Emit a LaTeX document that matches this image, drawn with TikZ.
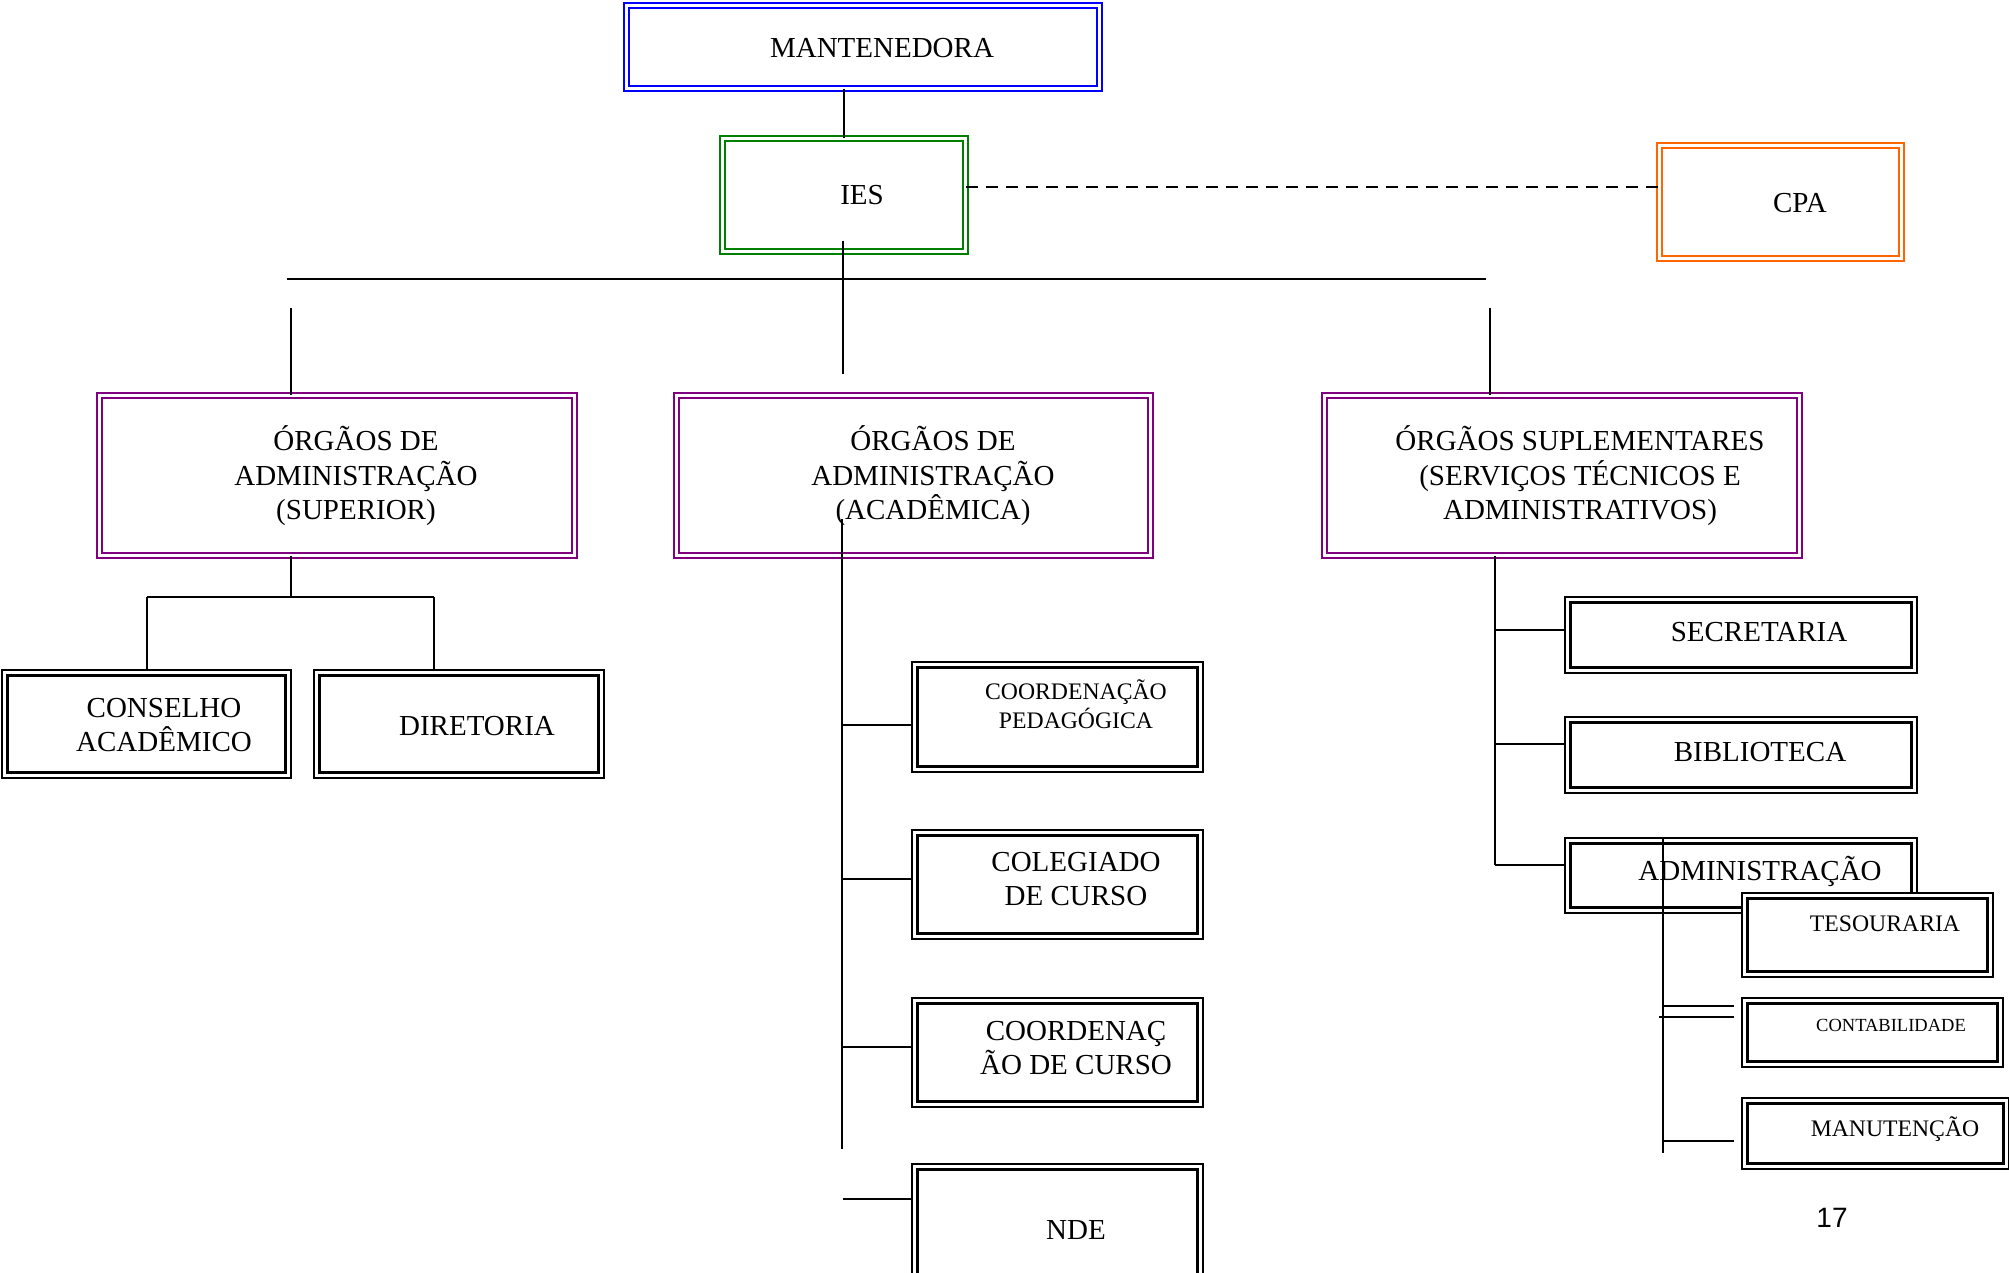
\documentclass[tikz,border=0pt]{standalone}
\usepackage{fontspec}
\setmainfont{Liberation Serif}
\newfontfamily\pagenumfont{Liberation Sans}
\definecolor{cblue}{RGB}{0,0,255}
\definecolor{cgreen}{RGB}{0,128,0}
\definecolor{corange}{RGB}{255,102,0}
\definecolor{cpurple}{RGB}{128,0,128}
\begin{document}
\begin{tikzpicture}[x=1pt,y=-1pt,
  dbox/.style={draw, double=white, double distance=3pt, line width=2.2pt, fill=white, inner sep=0pt, rectangle},
  kbox/.style={dbox, draw=black, line width=2.8pt, double distance=2.6pt},
  conn/.style={draw=black, line width=2pt},
  dashline/.style={draw=black, line width=2.4pt, dash pattern=on 12pt off 8pt},
  txt/.style={font=\fontsize{29}{34.5}\selectfont, align=center, inner sep=0pt},
  stxt/.style={font=\fontsize{23.7}{29.5}\selectfont, align=center, inner sep=0pt},
  xstxt/.style={font=\fontsize{18.5}{22}\selectfont, align=center, inner sep=0pt}
]
\useasboundingbox (0,0) rectangle (2009,1272);

% ---- top level
\node[dbox, draw=cblue, minimum width=472.6pt, minimum height=82.6pt] (mant) at (863,47) {};
\node[dbox, draw=cgreen, minimum width=242.6pt, minimum height=112.6pt] (ies) at (844,195) {};
\node[dbox, draw=corange, minimum width=241.6pt, minimum height=112.6pt] (cpa) at (1780.5,202) {};
\node[txt] (mantT) at (882,48) {MANTENEDORA};
\node[txt] (iesT) at (862,195) {IES};
\node[txt] (cpaT) at (1800,203) {CPA};

\draw[conn] (ies.north |- mant.south) -- (ies.north);
\coordinate (dashy) at (0,187);
\draw[dashline] (ies.east |- dashy) -- (cpa.west |- dashy);

% ---- second level boxes
\node[dbox, draw=cpurple, minimum width=474.6pt, minimum height=159.6pt] (sup) at (337,475.5) {};
\node[dbox, draw=cpurple, minimum width=473.6pt, minimum height=159.6pt] (acad) at (913.5,475.5) {};
\node[dbox, draw=cpurple, minimum width=474.6pt, minimum height=159.6pt] (supl) at (1562,475.5) {};
\node[txt] (supT) at (356,476) {ÓRGÃOS DE\\ADMINISTRAÇÃO\\(SUPERIOR)};
\node[txt] (acadT) at (933,476) {ÓRGÃOS DE\\ADMINISTRAÇÃO\\(ACADÊMICA)};
\node[txt] (suplT) at (1580,476) {ÓRGÃOS SUPLEMENTARES\\(SERVIÇOS TÉCNICOS E\\ADMINISTRATIVOS)};

% bus
\coordinate (iesdrop) at (843,241);
\coordinate (busdrop) at (843,374);
\draw[conn] (iesdrop) -- (busdrop);
\coordinate (busL) at (287,279);
\coordinate (busR) at (1486,279);
\draw[conn] (busL) -- (busR);
\coordinate (supin) at (291,308);
\draw[conn] (supin) -- (supin |- sup.north);
\coordinate (suplin) at (1490,308);
\draw[conn] (suplin) -- (suplin |- supl.north);

% ---- superior branch
\node[kbox, minimum width=283.6pt, minimum height=102.6pt] (cons) at (146.5,724) {};
\node[kbox, minimum width=284.6pt, minimum height=102.6pt] (dir) at (459,724) {};
\node[txt] (consT) at (164,725) {CONSELHO\\ACADÊMICO};
\node[txt] (dirT) at (477,726) {DIRETORIA};
\coordinate (supfork) at (291,597);
\coordinate (forkL) at (147,597);
\coordinate (forkR) at (434,597);
\draw[conn] (supfork |- sup.south) -- (supfork);
\draw[conn] (forkL) -- (forkR);
\draw[conn] (forkL) -- (forkL |- cons.north);
\draw[conn] (forkR) -- (forkR |- dir.north);

% ---- academica branch
\node[kbox, minimum width=285.6pt, minimum height=104.6pt] (cped) at (1057.5,717) {};
\node[kbox, minimum width=285.6pt, minimum height=103.6pt] (coleg) at (1057.5,884.5) {};
\node[kbox, minimum width=285.6pt, minimum height=103.6pt] (ccur) at (1057.5,1052.5) {};
\node[kbox, minimum width=285.6pt, minimum height=118.6pt] (nde) at (1057.5,1226) {};
\node[stxt] (cpedT) at (1076,704) {COORDENAÇÃO\\PEDAGÓGICA};
\node[txt] (colegT) at (1076,879) {COLEGIADO\\DE CURSO};
\node[txt] (ccurT) at (1076,1048) {COORDENAÇ\\ÃO DE CURSO};
\node[txt] (ndeT) at (1076,1230) {NDE};
\coordinate (acadtop) at (842,519);
\coordinate (acadbot) at (842,1149);
\draw[conn] (acadtop) -- (acadbot);
\coordinate (ab1) at (842,725);
\coordinate (ab2) at (842,879);
\coordinate (ab3) at (842,1047);
\coordinate (ab4) at (843,1199);
\draw[conn] (ab1) -- (ab1 -| cped.west);
\draw[conn] (ab2) -- (ab2 -| coleg.west);
\draw[conn] (ab3) -- (ab3 -| ccur.west);
\draw[conn] (ab4) -- (ab4 -| nde.west);

% ---- suplementares branch
\node[kbox, minimum width=346.6pt, minimum height=70.6pt] (sec) at (1741,635) {};
\node[kbox, minimum width=346.6pt, minimum height=70.6pt] (bib) at (1741,755) {};
\node[kbox, minimum width=346.6pt, minimum height=69.6pt] (adm) at (1741,875.5) {};
\node[txt] (secT) at (1759,632) {SECRETARIA};
\node[txt] (bibT) at (1760,752) {BIBLIOTECA};
\node[txt] (admT) at (1760,871) {ADMINISTRAÇÃO};
\coordinate (sb3) at (1495,865);
\coordinate (sb1) at (1495,630);
\coordinate (sb2) at (1495,744);
\draw[conn] (sb3 |- supl.south) -- (sb3);
\draw[conn] (sb1) -- (sb1 -| sec.west);
\draw[conn] (sb2) -- (sb2 -| bib.west);
\draw[conn] (sb3) -- (sb3 -| adm.west);

% admin sub-branch
\coordinate (admtop) at (1663,837);
\coordinate (admbot) at (1663,1153);
\draw[conn] (admtop) -- (admbot);
\node[kbox, minimum width=245.6pt, minimum height=78.6pt] (tes) at (1867.5,935) {};
\node[kbox, minimum width=255.6pt, minimum height=63.6pt] (cont) at (1872.5,1032.5) {};
\node[kbox, minimum width=261.6pt, minimum height=65.6pt] (manu) at (1875.5,1133.5) {};
\node[stxt] (tesT) at (1885,924) {TESOURARIA};
\node[xstxt] (contT) at (1891,1025) {CONTABILIDADE};
\node[stxt] (manuT) at (1895,1129) {MANUTENÇÃO};
\coordinate (cb1) at (1663,1006);
\coordinate (cb2) at (1659,1017);
\coordinate (mb) at (1663,1141);
\coordinate (bend) at (1734,0);
\draw[conn] (cb1) -- (cb1 -| bend);
\draw[conn] (cb2) -- (cb2 -| bend);
\draw[conn] (mb) -- (mb -| bend);

% page number
\node[font=\pagenumfont\fontsize{28}{32}\selectfont, inner sep=0pt] (pagenum) at (1832,1218) {17};
\end{tikzpicture}
\end{document}
